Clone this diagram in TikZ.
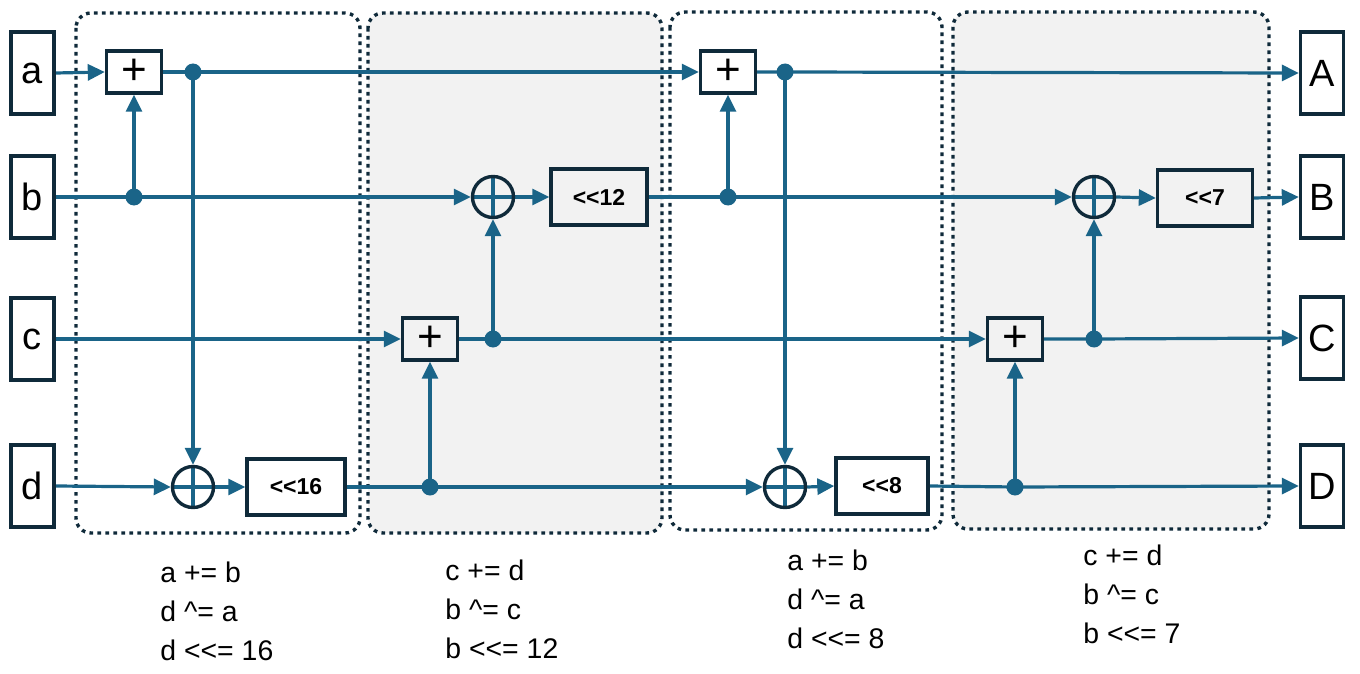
\documentclass[tikz,border=0pt]{standalone}
\usepackage{fontspec}
\setmainfont{Liberation Sans}
\usetikzlibrary{arrows.meta}
\definecolor{wire}{HTML}{1A6488}
\definecolor{navy}{HTML}{0F2A3A}
\definecolor{panel}{HTML}{F2F2F2}
\pgfdeclarelayer{panels}
\pgfdeclarelayer{wires}
\pgfsetlayers{panels,wires,main}
\begin{document}
\begin{tikzpicture}[x=0.5pt,y=-0.5pt,
  wirestyle/.style={draw=wire, line width=1.6pt},
  arr/.style={wirestyle,-{Triangle[length=8.5pt,width=8pt]}},
  io/.style={draw=navy, line width=1.7pt, fill=white, minimum width=21.5pt, minimum height=41pt, inner sep=0pt, font=\fontsize{19}{19}\selectfont},
  addbox/.style={draw=navy, line width=1.7pt, minimum width=27.5pt, minimum height=21pt, inner sep=0pt, font=\fontsize{22}{22}\selectfont},
  shiftbox/.style={draw=navy, line width=1.7pt, minimum width=48pt, minimum height=28pt, inner sep=0pt, font=\fontsize{11.5}{11.5}\selectfont\bfseries},
  xorc/.style={circle, draw=navy, line width=1.7pt, minimum size=20.5pt, inner sep=0pt},
  dot/.style={circle, fill=wire, minimum size=8.5pt, inner sep=0pt},
  roundbox/.style={draw=navy, line width=1.7pt, dash pattern=on 1.8pt off 2.2pt, rounded corners=7.5pt},
  code/.style={anchor=north west, align=left, inner sep=0pt, font=\fontsize{14.2}{19.4}\selectfont}
]
\useasboundingbox (0,0) rectangle (1360,674);

% panels
\begin{pgfonlayer}{panels}
\draw[roundbox] (76,13) rectangle (360,533);
\draw[roundbox, fill=panel] (368,13) rectangle (662,533);
\draw[roundbox] (670,12) rectangle (942,530);
\draw[roundbox, fill=panel] (953,12) rectangle (1269,529);
\end{pgfonlayer}

% inputs / outputs
\node[io] (a) at (32.5,73) {a};
\node[io] (b) at (32.5,197) {b};
\node[io] (c) at (32.5,339) {c};
\node[io] (d) at (32.5,486) {d};
\node[io] (A) at (1322,73) {A};
\node[io] (B) at (1322,197) {B};
\node[io] (C) at (1322,338) {C};
\node[io] (D) at (1322,486) {D};

% round 1
\node[addbox] (P1) at (134,72) {+};
\node[dot] (a1) at (193,72) {};
\node[dot] (b1) at (134,197) {};
\node[xorc] (X1) at (193,487) {};
\node[shiftbox, minimum width=49pt] (S16) at (296,487) {<{}<16};
% round 2
\node[addbox] (P2) at (430,339) {+};
\node[dot] (d2) at (430,487) {};
\node[dot] (c2) at (493,339) {};
\node[xorc] (X2) at (493,197) {};
\node[shiftbox] (S12) at (599,197) {<{}<12};
% round 3
\node[addbox] (P3) at (728,72) {+};
\node[dot] (b3) at (728,197) {};
\node[dot] (a3) at (785,72) {};
\node[xorc] (X3) at (785,487) {};
\node[shiftbox, minimum width=46pt] (S8) at (882,486) {<{}<8};
% round 4
\node[addbox] (P4) at (1015,339) {+};
\node[dot] (d4) at (1015,487) {};
\node[dot] (c4) at (1094,339) {};
\node[xorc] (X4) at (1094,197) {};
\node[shiftbox, minimum width=47.5pt] (S7) at (1205,198) {<{}<7};

\begin{pgfonlayer}{wires}
% xor crosses
\foreach \X in {X1,X2,X3,X4} {
  \draw[wirestyle] (\X.north) -- (\X.south) (\X.west) -- (\X.east);
}
% inputs
\draw[arr] (a.east) -- (P1.west);
\draw[arr] (b.east) -- (b1.center) -- (X2.west);
\draw[arr] (c.east) -- (P2.west);
\draw[arr] (d.east) -- (X1.west);
% round 1
\draw[arr] (b1.center) -- (P1.south);
\draw[arr] (P1.east) -- (a1.center) -- (P3.west);
\draw[arr] (a1.center) -- (X1.north);
\draw[arr] (X1.east) -- (S16.west);
\draw[arr] (S16.east) -- (d2.center) -- (X3.west);
% round 2
\draw[arr] (d2.center) -- (P2.south);
\draw[arr] (P2.east) -- (c2.center) -- (P4.west);
\draw[arr] (c2.center) -- (X2.south);
\draw[arr] (X2.east) -- (S12.west);
\draw[arr] (S12.east) -- (b3.center) -- (X4.west);
% round 3
\draw[arr] (b3.center) -- (P3.south);
\draw[arr] (P3.east) -- (a3.center) -- (A.west);
\draw[arr] (a3.center) -- (X3.north);
\draw[arr] (X3.east) -- (S8.west);
\draw[arr] (S8.east) -- (d4.center) -- (D.west);
% round 4
\draw[arr] (d4.center) -- (P4.south);
\draw[arr] (P4.east) -- (c4.center) -- (C.west);
\draw[arr] (c4.center) -- (X4.south);
\draw[arr] (X4.east) -- (S7.west);
\draw[arr] (S7.east) -- (B.west);
\end{pgfonlayer}

% code labels
\node[code] (t1) at (160,562) {a += b\\d \^{}= a\\d <{}<= 16};
\node[code] (t2) at (445,560) {c += d\\b \^{}= c\\b <{}<= 12};
\node[code] (t3) at (787,550) {a += b\\d \^{}= a\\d <{}<= 8};
\node[code] (t4) at (1083,545) {c += d\\b \^{}= c\\b <{}<= 7};
\end{tikzpicture}
\end{document}
